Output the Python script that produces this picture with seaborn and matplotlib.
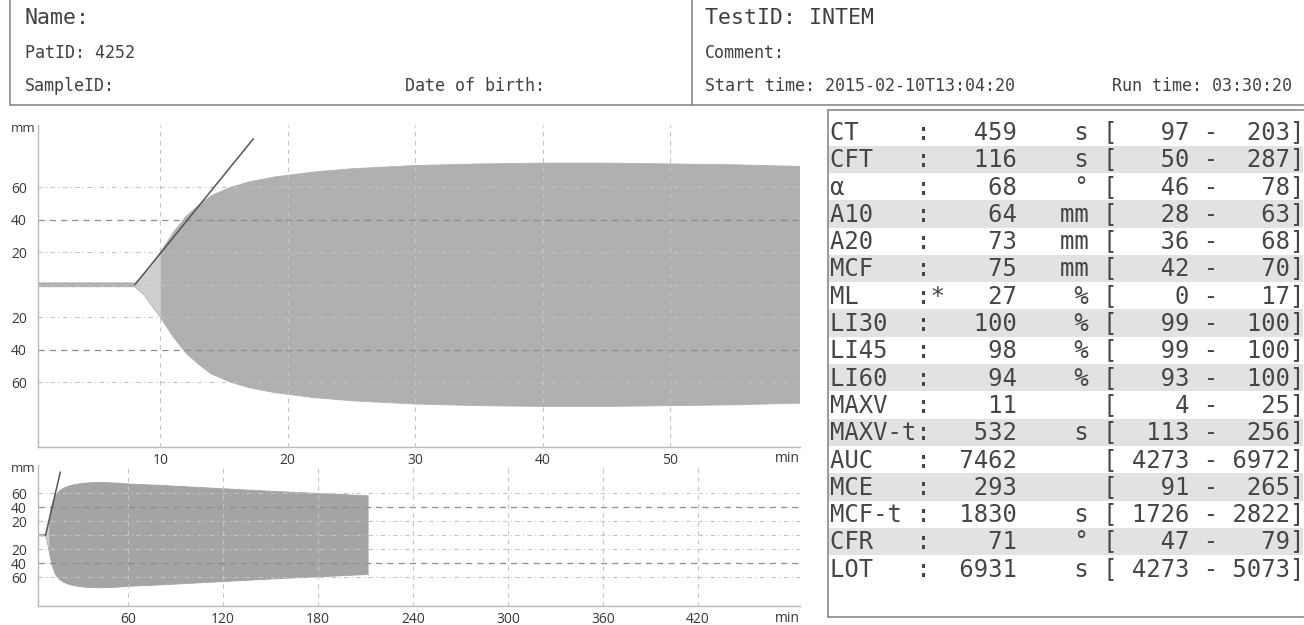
import matplotlib
matplotlib.use("Agg")
import matplotlib.pyplot as plt
import seaborn as sns
import numpy as np
import pandas as pd

sns.set_theme(style="white")
plt.rcParams['font.family'] = ['Open Sans', 'DejaVu Sans']

# header fields
name_label = "Name:"
pat_id = "PatID: 4252"
sample_id = "SampleID:"
dob_label = "Date of birth:"
test_id = "TestID: INTEM"
comment = "Comment:"
start_time = "Start time: 2015-02-10T13:04:20"
run_time = "Run time: 03:30:20"

# amplitude trace (min, mm)
trace_t = [0, 8.0, 8.7, 10, 11, 12, 13, 14, 15.5, 17, 19, 22, 25, 30, 35, 40,
           45, 50, 55, 60, 80, 105, 130, 155, 180, 212]
trace_a = [1.2, 1.2, 6, 20, 32, 42, 49, 55, 60, 63.5, 66.5, 69.5, 71.5, 73.5, 74.5, 75,
           75, 74.5, 74, 73, 71, 68, 65, 62, 59.5, 56]
# alpha tangent
alpha_t = [8.0, 17.3]
alpha_a = [0, 90]

# axes ticks
main_xticks = [10, 20, 30, 40, 50]
run_xticks = [60, 120, 180, 240, 300, 360, 420]
amp_ticks = [60, 40, 20, -20, -40, -60]

# result table
param_names = ["CT", "CFT", "α", "A10", "A20", "MCF", "ML", "LI30", "LI45", "LI60",
               "MAXV", "MAXV-t", "AUC", "MCE", "MCF-t", "CFR", "LOT"]
param_flags = ["", "", "", "", "", "", "*", "", "", "", "", "", "", "", "", "", ""]
param_values = [459, 116, 68, 64, 73, 75, 27, 100, 98, 94, 11, 532, 7462, 293, 1830, 71, 6931]
param_units = ["s", "s", "°", "mm", "mm", "mm", "%", "%", "%", "%", "", "s", "", "", "s", "°", "s"]
ref_low = [97, 50, 46, 28, 36, 42, 0, 99, 99, 93, 4, 113, 4273, 91, 1726, 47, 4273]
ref_high = [203, 287, 78, 63, 68, 70, 17, 100, 100, 100, 25, 256, 6972, 265, 2822, 79, 5073]

df = pd.DataFrame({"t": trace_t, "a": trace_a})
df["neg"] = -df["a"]

W, H = 1304, 625
fig = plt.figure(figsize=(W / 100, H / 100), dpi=100)


def px_axes(l, t, r, b):
    return fig.add_axes([l / W, 1 - b / H, (r - l) / W, (b - t) / H])


overlay = fig.add_axes([0, 0, 1, 1])
overlay.set_xlim(0, W)
overlay.set_ylim(H, 0)
overlay.axis("off")

ax_main = px_axes(38, 125, 800, 447)
ax_run = px_axes(38, 465, 800, 606)
ax_tab = px_axes(828, 110, 1303, 617)

fill_dark = "#b0b0b0"
fill_light = "#cfcfcf"
lbl_col = "#383838"


def draw_chart(ax, xlim, ylim, xticks, fill_col):
    t = df["t"].values
    a = df["a"].values
    dark = (t <= alpha_t[0]) | (t >= 10)
    light = (t >= alpha_t[0]) & (t <= 10)
    ax.fill_between(t, -a, a, where=dark, color=fill_col, lw=0, zorder=1)
    ax.fill_between(t, -a, a, where=light, color=fill_light, lw=0, zorder=1)
    sns.lineplot(data=df, x="t", y="a", ax=ax, color=fill_col, lw=0.6, zorder=1)
    sns.lineplot(data=df, x="t", y="neg", ax=ax, color=fill_col, lw=0.6, zorder=1)
    ax.plot(alpha_t, alpha_a, color="#555555", lw=1.1, zorder=3)

    # grid
    for v in amp_ticks + [0]:
        if abs(v) == 40:
            ax.axhline(v, color="#8c8c8c", lw=0.9, dashes=(5, 4), zorder=2)
        else:
            ax.axhline(v, color="#c4c4c4", lw=0.8, dashes=(4, 3, 1, 3), zorder=2)
    for v in xticks:
        ax.axvline(v, color="#c4c4c4", lw=0.8, dashes=(4, 4), zorder=2)

    ax.set_xlim(*xlim)
    ax.set_ylim(*ylim)
    ax.set_xticks(xticks)
    ax.set_yticks(amp_ticks)
    ax.set_yticklabels([str(abs(v)) for v in amp_ticks])
    ax.set_xlabel("")
    ax.set_ylabel("")
    for s in ["top", "right"]:
        ax.spines[s].set_visible(False)
    for s in ["left", "bottom"]:
        ax.spines[s].set_color("#b8b8b8")
        ax.spines[s].set_linewidth(1.0)
    ax.tick_params(axis="both", length=0, labelsize=10, labelcolor=lbl_col)
    ax.tick_params(axis="y", pad=8)
    ax.tick_params(axis="x", pad=4)


draw_chart(ax_main, (0.4, 60.2), (-100, 98.5), main_xticks, fill_dark)
draw_chart(ax_run, (3.2, 484.5), (-101, 100), run_xticks, "#a4a4a4")

for y in (128, 468):
    overlay.text(11, y, "mm", fontsize=9.5, color=lbl_col, va="center", ha="left")
for y in (458, 618):
    overlay.text(800, y, "min", fontsize=10, color=lbl_col, va="center", ha="right")

# header box
line_kw = dict(color="#8a8a8a", lw=1.2)
overlay.plot([10, 10], [0, 105], **line_kw)
overlay.plot([10, W], [105, 105], **line_kw)
overlay.plot([692, 692], [0, 105], **line_kw)

mono = "DejaVu Sans Mono"
hdr_col = "#404040"
overlay.text(25, 18, name_label, family=mono, fontsize=15.5, color=hdr_col, va="center")
overlay.text(25, 53, pat_id, family=mono, fontsize=12, color=hdr_col, va="center")
overlay.text(25, 86, sample_id, family=mono, fontsize=12, color=hdr_col, va="center")
overlay.text(405, 86, dob_label, family=mono, fontsize=12, color=hdr_col, va="center")
overlay.text(705, 18, test_id, family=mono, fontsize=15.5, color=hdr_col, va="center")
overlay.text(705, 53, comment, family=mono, fontsize=12, color=hdr_col, va="center")
overlay.text(705, 86, start_time, family=mono, fontsize=12, color=hdr_col, va="center")
overlay.text(1112, 86, run_time, family=mono, fontsize=12, color=hdr_col, va="center")

# results table
ax_tab.set_xlim(828, 1303)
ax_tab.set_ylim(617, 110)
ax_tab.set_xticks([])
ax_tab.set_yticks([])
for s in ["left", "top", "bottom"]:
    ax_tab.spines[s].set_color("#8a8a8a")
    ax_tab.spines[s].set_linewidth(1.2)
ax_tab.spines["right"].set_visible(False)

row_h = 27.3
for i, name in enumerate(param_names):
    y = 132 + i * row_h
    if i % 2 == 1:
        ax_tab.axhspan(y - row_h / 2, y + row_h / 2, color="#e2e2e2", lw=0, zorder=0)
    row = f"{name:<6}:{param_flags[i]:1}{param_values[i]:>5}{param_units[i]:>5} [{ref_low[i]:>5} -{ref_high[i]:>5}]"
    ax_tab.text(830, y, row, family=mono, fontsize=17.2, color="#454545", va="center", ha="left")

fig.savefig("out.png", dpi=100)
